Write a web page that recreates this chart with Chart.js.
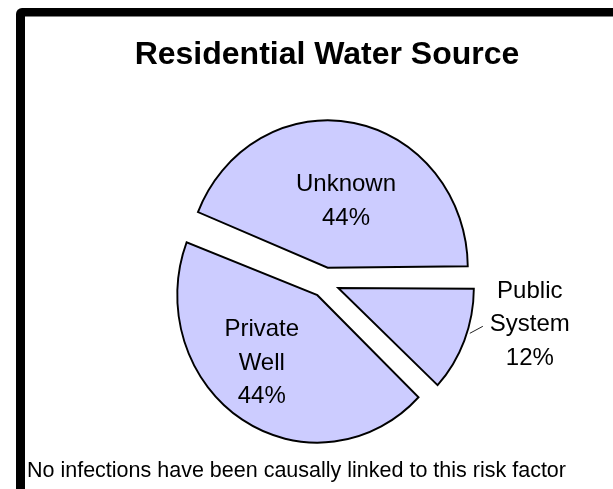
<!DOCTYPE html>
<html>
<head>
<meta charset="utf-8">
<script src="https://cdn.jsdelivr.net/npm/chart.js@4.4.1/dist/chart.umd.min.js"></script>
<style>
  html, body { margin: 0; padding: 0; background: #ffffff; }
  #wrap { position: relative; width: 613px; height: 489px; overflow: hidden; }
  canvas { display: block; }
</style>
</head>
<body>
<div id="wrap"><canvas id="c" width="613" height="489"></canvas></div>
<script>
// ---- data ----
const categories = ['Public System', 'Private Well', 'Unknown'];
const values = [12, 44, 44];
const titleText = 'Residential Water Source';
const footnoteText = 'No infections have been causally linked to this risk factor';

const FONT = '"Liberation Sans", Arial, Helvetica, sans-serif';
const X_SQUASH = 0.95; // the original pie is slightly taller than wide

// label placement relative to each exploded slice (distance px, angle tweak deg, leader)
const labelPlacement = [
  { dist: 195, rot: -10.8, leader: true },
  { dist: 88, rot: 6.8, leader: false },
  { dist: 69, rot: 4.6, leader: false }
];

const framePlugin = {
  id: 'frame',
  beforeDraw(chart) {
    const ctx = chart.ctx;
    ctx.save();
    ctx.fillStyle = '#ffffff';
    ctx.fillRect(0, 0, chart.width, chart.height);
    ctx.fillStyle = '#000000';
    ctx.beginPath();
    ctx.roundRect(16, 8, 700, 600, [6]);
    ctx.fill();
    ctx.fillStyle = '#ffffff';
    ctx.fillRect(25, 16.5, 700, 600);
    ctx.restore();
  },
  beforeDatasetsDraw(chart) {
    const ctx = chart.ctx;
    const a = chart.chartArea;
    const cx = (a.left + a.right) / 2;
    ctx.save();
    ctx.translate(cx, 0);
    ctx.scale(X_SQUASH, 1);
    ctx.translate(-cx, 0);
  },
  afterDatasetsDraw(chart) {
    chart.ctx.restore();
  }
};

const textPlugin = {
  id: 'texts',
  afterDatasetsDraw(chart) {
    const ctx = chart.ctx;
    const meta = chart.getDatasetMeta(0);
    const total = values.reduce((a, b) => a + b, 0);
    const a = chart.chartArea;
    const ccx = (a.left + a.right) / 2;
    const mapX = (x) => ccx + (x - ccx) * X_SQUASH;
    ctx.save();
    ctx.fillStyle = '#000000';
    ctx.textAlign = 'center';
    ctx.textBaseline = 'middle';
    ctx.font = '24px ' + FONT;
    const lh = 33.5;
    meta.data.forEach((arc, i) => {
      const p = arc.getProps(['x', 'y', 'startAngle', 'endAngle', 'outerRadius', 'circumference'], true);
      const mid = (p.startAngle + p.endAngle) / 2;
      const off = (arc.options.offset || 0) / 4;
      const fix = 1 - Math.sin(Math.min(Math.PI, p.circumference));
      const R = p.outerRadius + off * fix;
      const axu = p.x + Math.cos(mid) * off;
      const ay = p.y + Math.sin(mid) * off;
      const ax = mapX(axu);
      const pl = labelPlacement[i];
      const ang = mid + pl.rot * Math.PI / 180;
      const cx = ax + Math.cos(ang) * pl.dist;
      const cy = ay + Math.sin(ang) * pl.dist;
      const lines = categories[i].split(' ');
      lines.push(Math.round(values[i] / total * 100) + '%');
      const n = lines.length;
      lines.forEach((t, k) => {
        ctx.fillText(t, cx, cy + (k - (n - 1) / 2) * lh);
      });
      if (pl.leader) {
        const la = mid - 3.5 * Math.PI / 180;
        const sx = mapX(axu + Math.cos(la) * (R + 3));
        const sy = ay + Math.sin(la) * (R + 3);
        ctx.strokeStyle = '#222222';
        ctx.lineWidth = 1;
        ctx.beginPath();
        ctx.moveTo(sx, sy);
        ctx.lineTo(sx + 13, sy - 7);
        ctx.stroke();
      }
    });
    // title
    ctx.textBaseline = 'alphabetic';
    ctx.font = 'bold 32px ' + FONT;
    ctx.fillText(titleText, 327, 64);
    // footnote
    ctx.textAlign = 'left';
    ctx.font = '21.5px ' + FONT;
    ctx.fillText(footnoteText, 27, 477);
    ctx.restore();
  }
};

new Chart(document.getElementById('c'), {
  type: 'pie',
  data: {
    labels: categories,
    datasets: [{
      data: values,
      backgroundColor: '#CCCCFF',
      borderColor: '#000000',
      borderWidth: 2,
      borderJoinStyle: 'miter',
      offset: 60,
      radius: 138
    }]
  },
  options: {
    responsive: false,
    animation: false,
    devicePixelRatio: 1,
    rotation: 90,
    radius: 138,
    layout: { padding: { left: 37, right: 0, top: 76, bottom: 0 } },
    plugins: {
      legend: { display: false },
      tooltip: { enabled: false },
      title: { display: false }
    }
  },
  plugins: [framePlugin, textPlugin]
});
</script>
</body>
</html>
